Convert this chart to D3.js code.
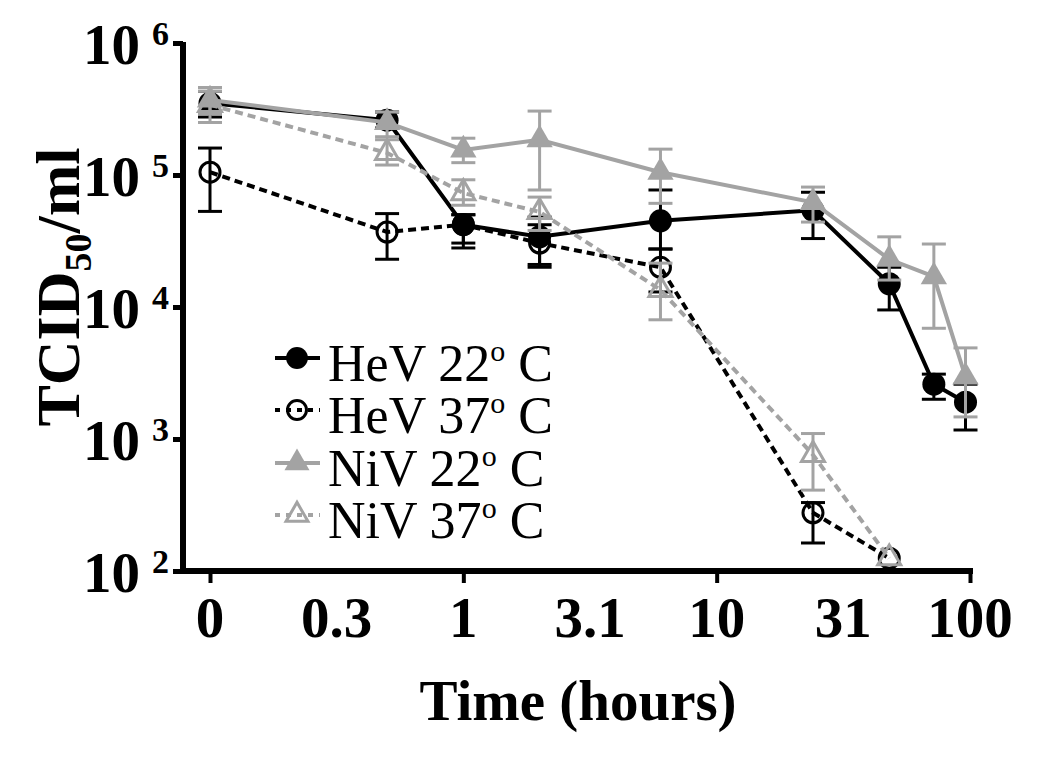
<!DOCTYPE html>
<html>
<head>
<meta charset="utf-8">
<script src="https://cdn.jsdelivr.net/npm/d3@7"></script>
<style>
  html, body { margin: 0; padding: 0; background: #fff; }
  svg { display: block; }
  text { font-family: "Liberation Serif", "Times New Roman", serif; }
</style>
</head>
<body>
<svg id="chart" width="1050" height="757"></svg>
<script>
// ---- data ----
const times = [0, 0.5, 1, 2, 6, 24, 48, 72, 96];
const times37 = [0, 0.5, 1, 2, 6, 24, 48];

const hev22   = [3.5e5, 2.6e5, 4.2e4, 3.4e4, 4.5e4, 5.4e4, 1.5e4, 2.6e3, 1.9e3];
const hev22Lo = [2.75e5, 2.27e5, 3.05e4, 2.0e4, 2.75e4, 3.3e4, 9.5e3, 2.0e3, 1.17e3];
const hev22Hi = [4.3e5, 3.0e5, 5.0e4, 4.8e4, 7.7e4, 7.4e4, 2.0e4, 3.1e3, 2.6e3];

const hev37   = [1.05e5, 3.7e4, 4.2e4, 3.05e4, 2.0e4, 2.76e2, 1.25e2];
const hev37Lo = [5.3e4, 2.3e4, 2.8e4, 2.1e4, 1.3e4, 1.63e2, 1.25e2];
const hev37Hi = [1.6e5, 5.1e4, 5.0e4, 4.2e4, 2.75e4, 3.3e2, 1.25e2];

const niv22   = [3.7e5, 2.5e5, 1.55e5, 1.85e5, 1.05e5, 6.2e4, 2.3e4, 1.7e4, 2.95e3];
const niv22Lo = [2.5e5, 1.95e5, 1.24e5, 7.7e4, 6.1e4, 4.4e4, 1.6e4, 6.9e3, 1.47e3];
const niv22Hi = [4.6e5, 3.0e5, 1.9e5, 3.05e5, 1.57e5, 8.1e4, 3.4e4, 3.0e4, 4.9e3];

const niv37   = [3.4e5, 1.47e5, 7.3e4, 5.25e4, 1.35e4, 7.6e2, 1.25e2];
const niv37Lo = [2.9e5, 1.19e5, 5.9e4, 3.8e4, 8.0e3, 4.1e2, 1.25e2];
const niv37Hi = [4.3e5, 1.85e5, 9.2e4, 6.8e4, 2.15e4, 1.1e3, 1.25e2];

const seriesNames = ["HeV 22", "HeV 37", "NiV 22", "NiV 37"];

const xTickValues = [0.1, Math.sqrt(0.1), 1, Math.sqrt(10), 10, Math.sqrt(1000), 100];
const xTickLabels = ["0", "0.3", "1", "3.1", "10", "31", "100"];
const xMajorTicks = [0.1, 1, 10, 100];
const yTickValues = [1e2, 1e3, 1e4, 1e5, 1e6];
const yTickExps = ["2", "3", "4", "5", "6"];

// ---- styles ----
const BLACK = "#000000", GRAY = "#a3a3a3";
const styles = [
  { color: BLACK, dash: null,  shape: "circle",   filled: true },
  { color: BLACK, dash: "8,5", shape: "circle",   filled: false },
  { color: GRAY,  dash: null,  shape: "triangle", filled: true },
  { color: GRAY,  dash: "8,5", shape: "triangle", filled: false }
];

const series = [
  { t: times,   v: hev22, lo: hev22Lo, hi: hev22Hi },
  { t: times37, v: hev37, lo: hev37Lo, hi: hev37Hi },
  { t: times,   v: niv22, lo: niv22Lo, hi: niv22Hi },
  { t: times37, v: niv37, lo: niv37Lo, hi: niv37Hi }
];

// ---- scales ----
const svg = d3.select("#chart");
const x = d3.scaleLog().domain([0.1, 100]).range([210, 970]);
const y = d3.scaleLog().domain([1e2, 1e6]).range([571, 43]);
const xt = t => x(t === 0 ? 0.1 : t); // time 0 plotted at axis origin position

// ---- axes ----
const axisX0 = 183, axisY0 = 571;
svg.append("line").attr("x1", axisX0).attr("x2", axisX0)
  .attr("y1", y(1e6) - 1).attr("y2", axisY0 + 3)
  .attr("stroke", "#000").attr("stroke-width", 6);
svg.append("line").attr("x1", axisX0 - 3).attr("x2", 973)
  .attr("y1", axisY0).attr("y2", axisY0)
  .attr("stroke", "#000").attr("stroke-width", 6);

// x ticks (major only)
const gx = svg.append("g").attr("transform", `translate(0,${axisY0})`)
  .call(d3.axisBottom(x).tickValues(xMajorTicks).tickSize(12).tickSizeOuter(0).tickFormat(""));
gx.select(".domain").remove();
gx.selectAll(".tick line").attr("stroke", "#000").attr("stroke-width", 4);

// x tick labels
svg.append("g").selectAll("text").data(xTickValues).join("text")
  .attr("x", d => x(d)).attr("y", 637)
  .attr("text-anchor", "middle")
  .attr("font-size", 57).attr("font-weight", "bold")
  .text((d, i) => xTickLabels[i]);

// y ticks
const gy = svg.append("g").attr("transform", `translate(${axisX0},0)`)
  .call(d3.axisLeft(y).tickValues(yTickValues).tickSize(10).tickSizeOuter(0).tickFormat(""));
gy.select(".domain").remove();
gy.selectAll(".tick line").attr("stroke", "#000").attr("stroke-width", 5);

// y tick labels 10^n
const yl = svg.append("g");
yl.selectAll("text.base").data(yTickValues).join("text").attr("class", "base")
  .attr("x", 140).attr("y", d => y(d) + 21)
  .attr("text-anchor", "end")
  .attr("font-size", 57).attr("font-weight", "bold")
  .text("10");
yl.selectAll("text.exp").data(yTickValues).join("text").attr("class", "exp")
  .attr("x", 152).attr("y", d => y(d) + 2)
  .attr("text-anchor", "start")
  .attr("font-size", 34).attr("font-weight", "bold")
  .text((d, i) => yTickExps[i]);

// axis titles
svg.append("text")
  .attr("x", 578).attr("y", 720)
  .attr("text-anchor", "middle")
  .attr("font-size", 57).attr("font-weight", "bold")
  .text("Time (hours)");

const yt = svg.append("text")
  .attr("transform", "translate(79,287) rotate(-90)")
  .attr("text-anchor", "middle")
  .attr("font-size", 62).attr("font-weight", "bold");
yt.append("tspan").text("TCID");
yt.append("tspan").attr("font-size", 38).attr("dy", 12).text("50");
yt.append("tspan").attr("dy", -12).text("/ml");

// ---- marks ----
const line = d3.line().x(d => xt(d.t)).y(d => y(d.v));
const triSym = d3.symbol().type(d3.symbolTriangle);

function drawMarker(g, cx, cy, st, scale) {
  scale = scale || 1;
  if (st.shape === "circle") {
    g.append("circle").attr("cx", cx).attr("cy", cy)
      .attr("r", (st.filled ? 11.5 : 10) * scale)
      .attr("fill", st.filled ? st.color : "none")
      .attr("stroke", st.color).attr("stroke-width", st.filled ? 0 : 3);
  } else {
    g.append("path").attr("transform", `translate(${cx},${cy})`)
      .attr("d", triSym.size((st.filled ? 300 : 230) * scale * scale)())
      .attr("fill", st.filled ? st.color : "none")
      .attr("stroke", st.color).attr("stroke-width", st.filled ? 0 : 3)
      .attr("stroke-linejoin", "miter");
  }
}

series.forEach((s, si) => {
  const st = styles[si];
  const g = svg.append("g");
  const pts = s.t.map((t, i) => ({ t, v: s.v[i], lo: s.lo[i], hi: s.hi[i] }));
  // error bars
  const eb = g.append("g").attr("stroke", st.color).attr("stroke-width", 3);
  pts.filter(p => p.hi > p.lo).forEach(p => {
    const cx = xt(p.t);
    eb.append("line").attr("x1", cx).attr("x2", cx).attr("y1", y(p.lo)).attr("y2", y(p.hi));
    eb.append("line").attr("x1", cx - 12).attr("x2", cx + 12).attr("y1", y(p.lo)).attr("y2", y(p.lo));
    eb.append("line").attr("x1", cx - 12).attr("x2", cx + 12).attr("y1", y(p.hi)).attr("y2", y(p.hi));
  });
  // line
  g.append("path").datum(pts).attr("d", line)
    .attr("fill", "none").attr("stroke", st.color).attr("stroke-width", 4)
    .attr("stroke-dasharray", st.dash);
  // markers
  pts.forEach(p => drawMarker(g, xt(p.t), y(p.v), st));
});

// ---- legend ----
const legendY = [358, 410, 463, 515];
const lg = svg.append("g");
seriesNames.forEach((name, i) => {
  const st = styles[i];
  const cy = legendY[i];
  lg.append("line").attr("x1", 275).attr("x2", 320).attr("y1", cy).attr("y2", cy)
    .attr("stroke", st.color).attr("stroke-width", 4)
    .attr("stroke-dasharray", st.dash ? "5,6" : null);
  drawMarker(lg, 297, cy, st, 0.95);
  const tx = lg.append("text").attr("x", 328).attr("y", cy + 23)
    .attr("font-size", 52).attr("fill", "#000");
  tx.append("tspan").text(name);
  tx.append("tspan").attr("font-size", 30).attr("dy", -20).text("o");
  tx.append("tspan").attr("dy", 20).text(" C");
});
</script>
</body>
</html>
